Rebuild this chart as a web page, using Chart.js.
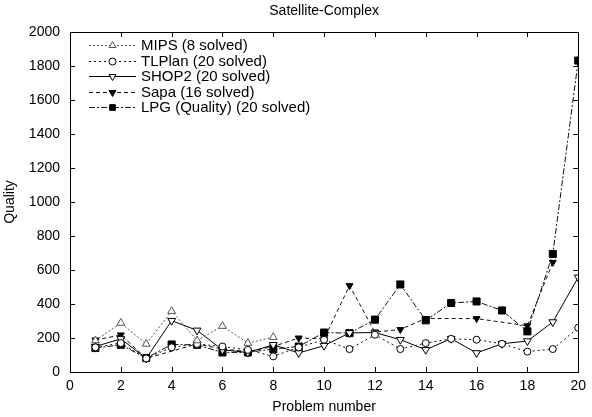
<!DOCTYPE html>
<html>
<head>
<meta charset="utf-8">
<script src="https://cdn.jsdelivr.net/npm/chart.js@4"></script>
<style>
html,body{margin:0;padding:0;background:#fff;}
#wrap{width:592px;height:417px;}
</style>
</head>
<body>
<div id="wrap"><canvas id="c" width="592" height="417"></canvas></div>
<script>
const problems = [1,2,3,4,5,6,7,8,9,10,11,12,13,14,15,16,17,18,19,20];
const mips   = [185,288,165,358,185,270,170,205,null,null,null,null,null,null,null,null,null,null,null,null];
const tlplan = [145,170,80,145,165,150,130,92,145,190,135,219,135,170,195,190,166,120,135,260];
const shop2  = [150,195,80,302,245,130,115,160,112,155,230,232,190,131,196,112,166,182,294,557];
const sapa   = [188,218,80,null,165,135,120,150,200,195,508,235,250,315,null,314,null,272,645,null];
const lpg    = [141,160,82,162,160,115,115,135,150,232,229,308,515,304,406,415,362,239,694,1832];
const seriesLabels = ['MIPS (8 solved)','TLPlan (20 solved)','SHOP2 (20 solved)','Sapa (16 solved)','LPG (Quality) (20 solved)'];
const xTicks = [0,2,4,6,8,10,12,14,16,18,20];
const yTicks = [0,200,400,600,800,1000,1200,1400,1600,1800,2000];

const FONT = "'Liberation Sans', Arial, sans-serif";

function pts(arr){ return problems.map((p,i)=>({x:p,y:arr[i]})); }

const styles = [
  {color:'#555', dash:[2,2], pointStyle:'triangle', rotation:0, radius:4.5, fill:'#fff', pb:'#555'},
  {color:'#111', dash:[2,3], pointStyle:'circle', rotation:0, radius:3.5, fill:'#fff', pb:'#000'},
  {color:'#000', dash:[], pointStyle:'triangle', rotation:180, radius:4.5, fill:'#fff', pb:'#000'},
  {color:'#111', dash:[4,3], pointStyle:'triangle', rotation:180, radius:4, fill:'#000', pb:'#000'},
  {color:'#111', dash:[6,2,2,2], pointStyle:'rect', rotation:0, radius:5, fill:'#000', pb:'#000'}
];
const seriesData = [mips, tlplan, shop2, sapa, lpg];

const datasets = seriesData.map((arr,i)=>({
  label: seriesLabels[i],
  data: pts(arr),
  borderColor: styles[i].color,
  borderWidth: 1,
  borderDash: styles[i].dash,
  pointStyle: styles[i].pointStyle,
  rotation: styles[i].rotation,
  pointRadius: styles[i].radius,
  pointBackgroundColor: styles[i].fill,
  pointBorderColor: styles[i].pb,
  pointBorderWidth: 1,
  spanGaps: true,
  tension: 0,
  fill: false
}));

const framePlugin = {
  id: 'frame',
  afterDraw(chart){
    const ctx = chart.ctx, a = chart.chartArea;
    const xs = chart.scales.x, ys = chart.scales.y;
    ctx.save();
    ctx.strokeStyle = '#000';
    ctx.lineWidth = 1;
    ctx.setLineDash([]);
    ctx.strokeRect(Math.round(a.left)+0.5, Math.round(a.top)+0.5, Math.round(a.right-a.left), Math.round(a.bottom-a.top));
    const tl = 5;
    ctx.beginPath();
    xTicks.forEach(v=>{
      const px = Math.round(xs.getPixelForValue(v))+0.5;
      ctx.moveTo(px, a.bottom); ctx.lineTo(px, a.bottom-tl);
      ctx.moveTo(px, a.top); ctx.lineTo(px, a.top+tl);
    });
    yTicks.forEach(v=>{
      const py = Math.round(ys.getPixelForValue(v))+0.5;
      ctx.moveTo(a.left, py); ctx.lineTo(a.left+tl, py);
      ctx.moveTo(a.right, py); ctx.lineTo(a.right-tl, py);
    });
    ctx.stroke();

    // title
    ctx.fillStyle = '#000';
    ctx.font = '14px ' + FONT;
    ctx.textAlign = 'center';
    ctx.textBaseline = 'middle';
    ctx.fillText('Satellite-Complex', (a.left+a.right)/2, 11);

    // legend inside
    const lx0 = a.left + 19, lx1 = a.left + 66, tx = a.left + 71;
    let ly = a.top + 13;
    chart.data.datasets.forEach((ds,i)=>{
      ctx.save();
      ctx.strokeStyle = ds.borderColor;
      ctx.lineWidth = 1;
      ctx.setLineDash(ds.borderDash);
      ctx.beginPath();
      ctx.moveTo(lx0, Math.round(ly)+0.5); ctx.lineTo(lx1, Math.round(ly)+0.5);
      ctx.stroke();
      ctx.setLineDash([]);
      ctx.fillStyle = ds.pointBackgroundColor;
      ctx.strokeStyle = ds.pointBorderColor;
      Chart.helpers.drawPoint(ctx, {pointStyle: ds.pointStyle, rotation: ds.rotation, radius: Math.min(ds.pointRadius, 4), borderWidth:1}, (lx0+lx1)/2, Math.round(ly)+0.5);
      ctx.restore();
      ctx.fillStyle = '#000';
      ctx.font = '15px ' + FONT;
      ctx.textAlign = 'left';
      ctx.textBaseline = 'middle';
      ctx.fillText(ds.label, tx, ly+1);
      ly += 15.5;
    });
    ctx.restore();
  }
};

new Chart(document.getElementById('c'), {
  type: 'line',
  data: { datasets },
  options: {
    responsive: false,
    animation: false,
    devicePixelRatio: 1,
    layout: { padding: { top: 32, right: 7, left: 0, bottom: 0 } },
    plugins: { legend: { display: false }, title: { display: false }, tooltip: { enabled: false } },
    scales: {
      x: {
        type: 'linear', min: 0, max: 20,
        afterBuildTicks(s){ s.ticks = xTicks.map(v=>({value:v})); },
        afterFit(s){ s.height = 45; },
        grid: { display: false, drawTicks: false },
        border: { display: false },
        ticks: { color:'#000', font:{ family: FONT, size: 14 }, padding: 6, maxRotation: 0, callback: v => String(v) },
        title: { display: true, text: 'Problem number', color:'#000', font:{ family: FONT, size: 14 }, padding: { top: 0, bottom: 1 } }
      },
      y: {
        type: 'linear', min: 0, max: 2000,
        afterBuildTicks(s){ s.ticks = yTicks.map(v=>({value:v})); },
        afterFit(s){ s.width = 70; },
        grid: { display: false, drawTicks: false },
        border: { display: false },
        ticks: { color:'#000', font:{ family: FONT, size: 14 }, padding: 10, callback: v => String(v) },
        title: { display: true, text: 'Quality', color:'#000', font:{ family: FONT, size: 14 }, padding: { top: 2, bottom: 0 } }
      }
    }
  },
  plugins: [framePlugin]
});
</script>
</body>
</html>
